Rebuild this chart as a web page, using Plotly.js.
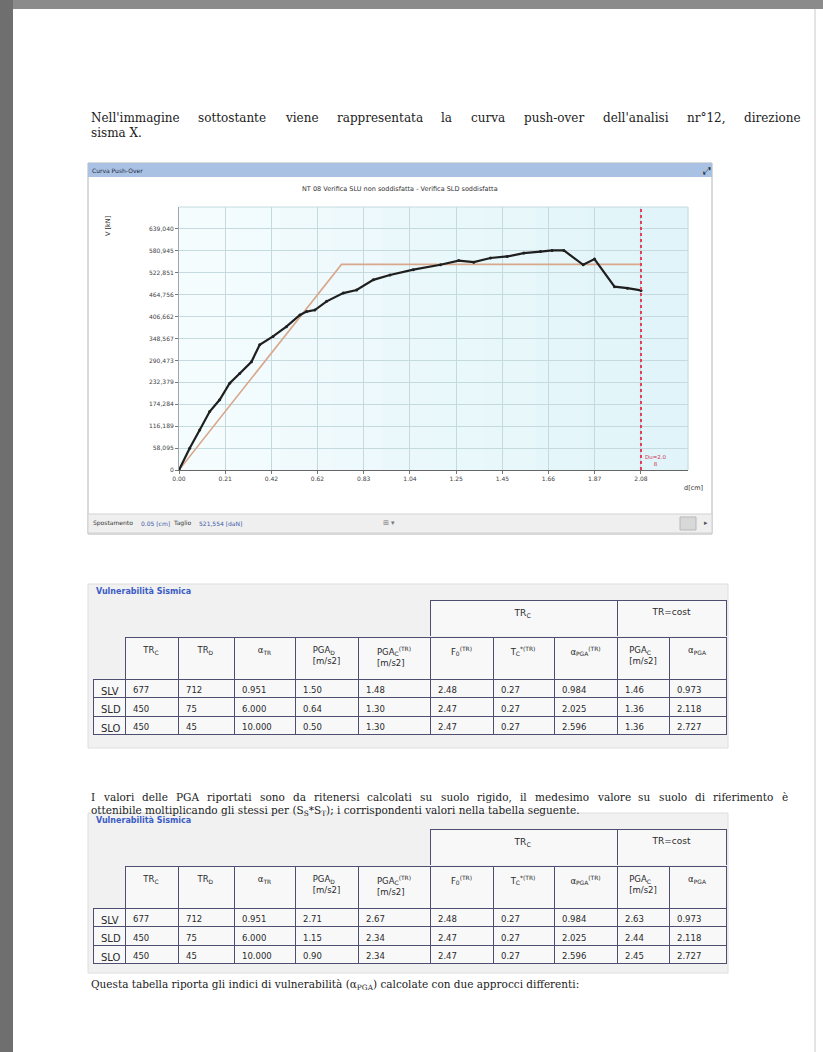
<!DOCTYPE html>
<html><head><meta charset="utf-8">
<script src="https://cdn.plot.ly/plotly-3.0.1.min.js"></script>
<style>html,body{margin:0;padding:0;background:#fff;} #chart{width:823px;height:1052px;}</style>
</head><body><div id="chart"></div>
<script>
// ---------- DATA ----------
const pushX = [0, 0.048, 0.093, 0.138, 0.183, 0.228, 0.273, 0.326, 0.363, 0.423, 0.483, 0.544, 0.574, 0.611, 0.664, 0.739, 0.799, 0.874, 0.949, 1.054, 1.176, 1.258, 1.326, 1.401, 1.476, 1.551, 1.626, 1.678, 1.731, 1.818, 1.869, 1.959, 2.017, 2.078];
const pushV = [0, 57.5, 106, 155, 186, 230, 256, 287, 332, 354, 380, 411, 420, 424, 447, 469, 477, 504, 517, 531, 544, 555, 551, 562, 566, 575, 579, 582, 582, 544, 559, 486, 482, 476];
const bilX = [0, 0.731, 2.078];
const bilV = [0, 545, 545];
const duValue = 2.078;
const xTickVals = [0, 0.208, 0.416, 0.623, 0.831, 1.039, 1.247, 1.455, 1.662, 1.870, 2.078];
const xTickText = ['0.00','0.21','0.42','0.62','0.83','1.04','1.25','1.45','1.66','1.87','2.08'];
const yTickVals = [0, 58.095, 116.189, 174.284, 232.379, 290.473, 348.567, 406.662, 464.756, 522.851, 580.945, 639.040];
const yTickText = ['0','58,095','116,189','174,284','232,379','290,473','348,567','406,662','464,756','522,851','580,945','639,040'];
const xMax = 2.2895, yMax = 697.134;

const stateLabels = ['SLV','SLD','SLO'];
const groupLabels = [' ', 'TR<sub>C</sub>', 'TR=cost'];
const headerLabels = [' ', 'TR<sub>C</sub>', 'TR<sub>D</sub>', 'α<sub>TR</sub>', 'PGA<sub>D</sub><br>[m/s2]', 'PGA<sub>C</sub><sup>(TR)</sup><br>[m/s2]', 'F<sub>0</sub><sup>(TR)</sup>', 'T<sub>C</sub><sup>*(TR)</sup>', 'α<sub>PGA</sub><sup>(TR)</sup>', 'PGA<sub>C</sub><br>[m/s2]', 'α<sub>PGA</sub>'];
const trC = ['677','450','450'];
const trD = ['712','75','45'];
const alphaTR = ['0.951','6.000','10.000'];
const f0 = ['2.48','2.47','2.47'];
const tcStar = ['0.27','0.27','0.27'];
const alphaPGAtr = ['0.984','2.025','2.596'];
const alphaPGA = ['0.973','2.118','2.727'];
const pgaD1 = ['1.50','0.64','0.50'];
const pgaCtr1 = ['1.48','1.30','1.30'];
const pgaC1 = ['1.46','1.36','1.36'];
const pgaD2 = ['2.71','1.15','0.90'];
const pgaCtr2 = ['2.67','2.34','2.34'];
const pgaC2 = ['2.63','2.44','2.45'];

const para1 = "Nell'immagine sottostante viene rappresentata la curva push-over dell'analisi nr°12, direzione";
const para1b = "sisma X.";
const para2 = "I valori delle PGA riportati sono da ritenersi calcolati su suolo rigido, il medesimo valore su suolo di riferimento è";
const para2b = "ottenibile moltiplicando gli stessi per (S<sub>S</sub>*S<sub>T</sub>); i corrispondenti valori nella tabella seguente.";
const para3 = "Questa tabella riporta gli indici di vulnerabilità (α<sub>PGA</sub>) calcolate con due approcci differenti:";
const chartTitle = "NT 08 Verifica SLU non soddisfatta - Verifica SLD soddisfatta";

// ---------- LAYOUT HELPERS ----------
const W = 823, H = 1052;
const px = v => v / W;
const py = v => 1 - v / H;
const annotations = [];
const shapes = [];
function note(x, y, text, o) {
  o = o || {};
  annotations.push(Object.assign({xref:'paper', yref:'paper', x:px(x), y:py(y), text:text, showarrow:false,
    xanchor:'left', yanchor:'middle', borderpad:0,
    font:{family:'DejaVu Sans', size:7, color:'#333'}}, o));
}
function rect(x0, y0, x1, y1, fill, line, lw) {
  shapes.push({type:'rect', xref:'paper', yref:'paper', x0:px(x0), x1:px(x1), y0:py(y1), y1:py(y0),
    fillcolor:fill, line:{color:line || 'rgba(0,0,0,0)', width:lw || (line ? 1 : 0)}, layer:'below'});
}
const cvs = document.createElement('canvas').getContext('2d');
function justify(text, x0, x1, y, fam, size, color) {
  const words = text.split(' ');
  cvs.font = size + 'px "' + fam + '"';
  const ws = words.map(w => cvs.measureText(w).width);
  const tot = ws.reduce((a,b)=>a+b, 0);
  const gap = (x1 - x0 - tot) / (words.length - 1);
  let x = x0;
  words.forEach((w,i) => { note(x, y, w, {font:{family:fam, size:size, color:color}}); x += ws[i] + gap; });
}

// page decoration
rect(0, 0, W, 9, '#8b8b8b');
rect(0, 0, 13, H, '#6f6f6f');
rect(814, 9, 816, H, '#e4e4e4');

// chart window
rect(88, 163, 712, 534, '#ffffff', '#b4b4b4', 1);
rect(88, 163, 712, 177, '#a9c1e2');
rect(88, 514, 712, 533, '#efefef', '#d2d2d2', 1);
rect(680, 517, 696, 530, '#d8d8d8', '#b8b8b8', 1);
const bgSteps = 10;
for (let i = 0; i < bgSteps; i++) {
  const t = i / (bgSteps - 1);
  const g = Math.round(252 - 8 * t), b = Math.round(253 - 4 * t), r = Math.round(244 - 20 * t);
  rect(179 + i * (509 / bgSteps), 207, 179 + (i + 1) * (509 / bgSteps) + 0.5, 470, `rgb(${r},${g},${b})`);
}
shapes.push({type:'line', xref:'x domain', yref:'y domain', x0:0, x1:1, y0:1, y1:1, line:{color:'#c4dade', width:1}, layer:'below'});
shapes.push({type:'line', xref:'x domain', yref:'y domain', x0:1, x1:1, y0:0, y1:1, line:{color:'#c4dade', width:1}, layer:'below'});

// table panels
rect(88, 584, 728, 748, '#f1f1f2', '#dedede', 1);
rect(88, 813, 728, 973, '#f1f1f2', '#dedede', 1);

// texts
justify(para1, 90, 800, 118, 'DejaVu Serif', 12, '#222');
note(90, 133, para1b, {font:{family:'DejaVu Serif', size:12, color:'#222'}});
justify(para2, 90, 787, 797, 'DejaVu Serif', 10.5, '#222');
note(90, 811, para2b, {font:{family:'DejaVu Serif', size:10.5, color:'#222'}});
note(90, 985, para3, {font:{family:'DejaVu Serif', size:10.5, color:'#222'}});

note(91, 170, 'Curva Push-Over', {font:{family:'DejaVu Sans', size:6, color:'#1e2a44'}});
note(702, 170, '⤢', {font:{family:'DejaVu Sans', size:10, color:'#111'}});
note(400, 189, chartTitle, {xanchor:'center', font:{family:'DejaVu Sans', size:6.5, color:'#333'}});
note(108, 226, 'V [kN]', {xanchor:'center', textangle:-90, font:{family:'DejaVu Sans', size:6.5, color:'#333'}});
note(693, 488, 'd[cm]', {xanchor:'center', font:{family:'DejaVu Sans', size:6.5, color:'#333'}});
note(92, 523, 'Spostamento', {font:{family:'DejaVu Sans', size:6, color:'#333'}});
note(140, 523, '0.05 [cm]', {font:{family:'DejaVu Sans', size:6, color:'#3d5aa8'}});
note(172, 523, 'Taglio', {font:{family:'DejaVu Sans', size:6, color:'#333'}});
note(198, 523, '521,554 [daN]', {font:{family:'DejaVu Sans', size:6, color:'#3d5aa8'}});
note(382, 523, '⊞ ▾', {font:{family:'DejaVu Sans', size:7, color:'#777'}});
note(703, 523, '▸', {font:{family:'DejaVu Sans', size:7, color:'#555'}});
note(95, 591, '<b>Vulnerabilità Sismica</b>', {font:{family:'DejaVu Sans', size:8, color:'#3a5cc4'}});
note(95, 820, '<b>Vulnerabilità Sismica</b>', {font:{family:'DejaVu Sans', size:8, color:'#3a5cc4'}});

annotations.push({xref:'x', yref:'paper', x:duValue, y:py(460), xanchor:'left', yanchor:'middle', showarrow:false,
  text:'Du=2.0<br>8', align:'center', font:{family:'DejaVu Sans', size:5.5, color:'#d03050'}, xshift:2});

// ---------- TRACES ----------
const traces = [
  {type:'scatter', mode:'lines', x:bilX, y:bilV, line:{color:'#d9a78c', width:1.6}, hoverinfo:'skip'},
  {type:'scatter', mode:'lines+markers', x:pushX, y:pushV, line:{color:'#1f1f1f', width:2.2}, marker:{size:3, color:'#1f1f1f'}, hoverinfo:'skip'},
  {type:'scatter', mode:'lines', x:[duValue, duValue], y:[0, yMax], line:{color:'#e0405e', width:2, dash:'dot'}, hoverinfo:'skip'}
];

const colW = [32, 53, 56, 61, 63, 72, 63, 61, 63, 52, 57];
const groupW = [337, 187, 109];
const lineC = '#4e4e70';
const cellFont = {family:'DejaVu Sans', size:[10,8.5,8.5,8.5,8.5,8.5,8.5,8.5,8.5,8.5,8.5], color:'#2a2a2a'};
function addTable(topY, pgaD, pgaCtr, pgaC) {
  const xDom = [px(93), px(726)];
  traces.push({type:'table', domain:{x:xDom, y:[py(topY + 37), py(topY)]}, columnwidth:groupW,
    header:{values:groupLabels, height:37, align:'center',
      fill:{color:['rgba(0,0,0,0)','#f8f8f9','#f8f8f9']},
      line:{color:['rgba(0,0,0,0)', lineC, lineC], width:1},
      font:{family:'DejaVu Sans', size:9, color:'#2a2a2a'}},
    cells:{values:[[],[],[]]}});
  traces.push({type:'table', domain:{x:xDom, y:[py(topY + 37 + 42 + 3*18.5 + 4), py(topY + 37)]}, columnwidth:colW,
    header:{values:headerLabels, height:42, align:'center',
      fill:{color:['rgba(0,0,0,0)'].concat(Array(10).fill('#f8f8f9'))},
      line:{color:['rgba(0,0,0,0)'].concat(Array(10).fill(lineC)), width:1},
      font:{family:'DejaVu Sans', size:8.5, color:'#2a2a2a'}},
    cells:{values:[stateLabels, trC, trD, alphaTR, pgaD, pgaCtr, f0, tcStar, alphaPGAtr, pgaC, alphaPGA],
      height:18.5, align:'left', fill:{color:'#f8f8f9'}, line:{color:lineC, width:1}, font:cellFont}});
}
addTable(600, pgaD1, pgaCtr1, pgaC1);
addTable(829, pgaD2, pgaCtr2, pgaC2);

const layout = {
  width:W, height:H, margin:{l:0, r:0, t:0, b:0},
  paper_bgcolor:'#ffffff', plot_bgcolor:'rgba(0,0,0,0)', showlegend:false,
  xaxis:{domain:[px(179), px(688)], range:[0, xMax], tickvals:xTickVals, ticktext:xTickText,
    showgrid:true, gridcolor:'#c4dade', gridwidth:1, zeroline:false,
    showline:true, linecolor:'#666', linewidth:1, ticks:'outside', ticklen:3, tickcolor:'#777',
    tickfont:{family:'DejaVu Sans', size:6, color:'#444'}, fixedrange:true},
  yaxis:{domain:[py(470), py(207)], range:[0, yMax], tickvals:yTickVals, ticktext:yTickText,
    showgrid:true, gridcolor:'#c4dade', gridwidth:1, zeroline:false,
    showline:true, linecolor:'#9aa', linewidth:1, ticks:'outside', ticklen:3, tickcolor:'#777',
    tickfont:{family:'DejaVu Sans', size:6, color:'#444'}, fixedrange:true},
  shapes:shapes, annotations:annotations
};
Plotly.newPlot('chart', traces, layout, {displayModeBar:false, staticPlot:true});
</script></body></html>
